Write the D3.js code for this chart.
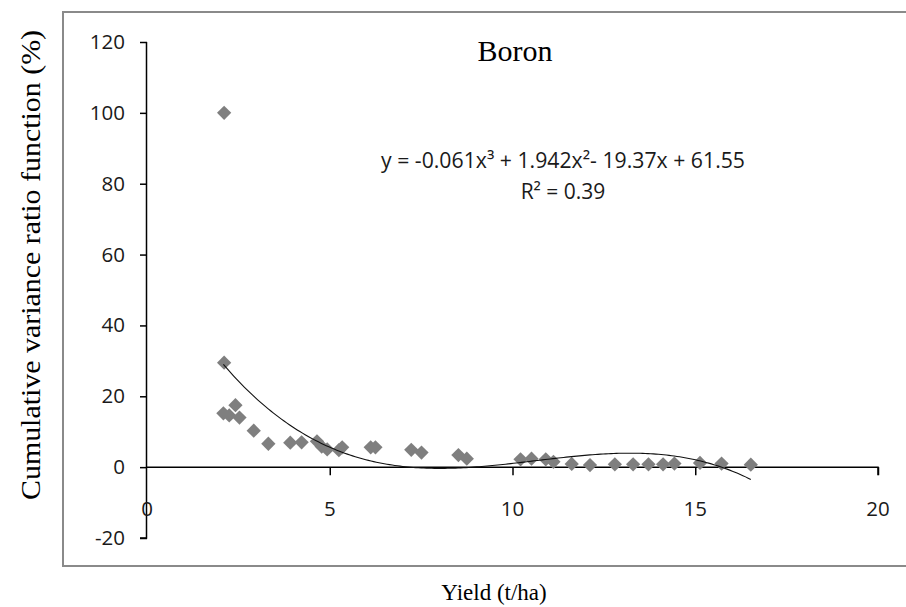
<!DOCTYPE html>
<html>
<head>
<meta charset="utf-8">
<script src="https://cdn.jsdelivr.net/npm/d3@7/dist/d3.min.js"></script>
<style>
  html, body { margin: 0; padding: 0; background: #fff; }
  svg { display: block; }
</style>
</head>
<body>
<svg id="chart" width="906" height="607"></svg>
<script>
// Yield (t/ha) of each sample
const yieldValues = [2.11, 2.11, 2.09, 2.25, 2.42, 2.53, 2.92, 3.32, 3.92, 4.23, 4.65, 4.78,
  4.93, 5.25, 5.34, 6.12, 6.25, 7.23, 7.51, 8.52, 8.75, 10.22, 10.52, 10.91, 11.12, 11.62,
  12.12, 12.8, 13.3, 13.72, 14.12, 14.43, 15.13, 15.72, 16.52];
// Cumulative variance ratio function (%)
const cvrValues = [100, 29.5, 15.2, 14.6, 17.5, 14.0, 10.3, 6.6, 6.9, 7.0, 7.3, 5.8,
  5.0, 4.8, 5.6, 5.6, 5.6, 4.9, 4.1, 3.4, 2.4, 2.2, 2.4, 2.2, 1.5, 0.9,
  0.6, 0.8, 0.8, 0.8, 0.8, 1.0, 1.2, 1.0, 0.7];
// Polynomial trendline coefficients, highest order first
const trendCoefficients = [-0.061, 1.942, -19.37, 61.55];
const rSquared = 0.39;
const xTicks = [0, 5, 10, 15, 20];
const yTicks = [-20, 0, 20, 40, 60, 80, 100, 120];

const svg = d3.select("#chart");

const x = d3.scaleLinear().domain([0, 20]).range([147, 878]);
const y = d3.scaleLinear().domain([-20, 120]).range([538, 42]);

const labelFont = "'Open Sans', sans-serif";
const serifFont = "'Liberation Serif', 'Times New Roman', serif";

// outer chart frame
svg.append("rect")
  .attr("x", 63).attr("y", 12)
  .attr("width", 860).attr("height", 554)
  .attr("fill", "none").attr("stroke", "#8a8a8a").attr("stroke-width", 2);

// title
svg.append("text")
  .attr("x", 515).attr("y", 61)
  .attr("text-anchor", "middle")
  .attr("font-family", serifFont)
  .attr("font-size", 30).attr("fill", "#000")
  .text("Boron");

// y axis
const yAxis = d3.axisLeft(y).tickValues(yTicks).tickSize(7).tickFormat(d => String(d));
const gy = svg.append("g").attr("transform", `translate(${x(0)},0)`).call(yAxis);
gy.select(".domain").attr("stroke", "#000").attr("stroke-width", 1.5).attr("d", `M-0.5,${y(120)}V${y(-20)}H-7`);
gy.selectAll(".tick line").attr("stroke", "#000").attr("stroke-width", 1.5);
gy.selectAll(".tick text")
  .attr("x", -22)
  .attr("font-family", labelFont)
  .attr("font-size", 20.5).attr("fill", "#1a1a1a");

// x axis crossing at y = 0, labels placed lower
const xAxis = d3.axisBottom(x).tickValues(xTicks).tickSize(8).tickFormat("");
const gx = svg.append("g").attr("transform", `translate(0,${y(0)})`).call(xAxis);
gx.select(".domain").attr("stroke", "#000").attr("stroke-width", 1.5).attr("d", `M${x(0)},0H${x(20)}V8`);
gx.selectAll(".tick line").attr("stroke", "#000").attr("stroke-width", 1.5);
gx.selectAll(".tick").filter(d => d === 0).select("line").remove();

svg.append("g").selectAll("text")
  .data(xTicks)
  .join("text")
  .attr("x", d => x(d)).attr("y", 516)
  .attr("text-anchor", "middle")
  .attr("font-family", labelFont)
  .attr("font-size", 20.5).attr("fill", "#1a1a1a")
  .text(d => String(d));

// axis titles
svg.append("text")
  .attr("transform", "translate(40,265) rotate(-90)")
  .attr("text-anchor", "middle")
  .attr("font-family", serifFont)
  .attr("font-size", 27).attr("fill", "#000")
  .attr("textLength", 470).attr("lengthAdjust", "spacingAndGlyphs")
  .text("Cumulative  variance ratio function (%)");

svg.append("text")
  .attr("x", 494).attr("y", 600)
  .attr("text-anchor", "middle")
  .attr("font-family", serifFont)
  .attr("font-size", 23).attr("fill", "#000")
  .text("Yield (t/ha)");

// data points as diamonds
const diamond = d3.symbol().type(d3.symbolDiamond2).size(130);
svg.append("g").selectAll("path")
  .data(yieldValues.map((v, i) => [v, cvrValues[i]]))
  .join("path")
  .attr("transform", d => `translate(${x(d[0])},${y(d[1])})`)
  .attr("d", diamond)
  .attr("fill", "#7f7f7f");

// cubic trendline over the data range
const poly = t => trendCoefficients.reduce((acc, c) => acc * t + c, 0);
const [xmin, xmax] = d3.extent(yieldValues);
const curvePts = d3.range(0, 201).map(i => {
  const t = xmin + (xmax - xmin) * i / 200;
  return [t, poly(t)];
});
svg.append("path")
  .datum(curvePts)
  .attr("d", d3.line().x(d => x(d[0])).y(d => y(d[1])))
  .attr("fill", "none").attr("stroke", "#111").attr("stroke-width", 1.1);

// trendline equation, built from the coefficients
const [a3, a2, a1, a0] = trendCoefficients;
const signed = v => (v < 0 ? "- " : "+ ") + Math.abs(v);
const equation = `y = ${a3}x³ ${signed(a2)}x² ${signed(a1)}x ${signed(a0)}`.replace("x² - ", "x²- ");
svg.append("text")
  .attr("x", 563).attr("y", 168)
  .attr("text-anchor", "middle")
  .attr("font-family", labelFont)
  .attr("font-size", 21).attr("fill", "#1a1a1a")
  .attr("textLength", 364).attr("lengthAdjust", "spacingAndGlyphs")
  .text(equation);
svg.append("text")
  .attr("x", 563).attr("y", 199)
  .attr("text-anchor", "middle")
  .attr("font-family", labelFont)
  .attr("font-size", 21).attr("fill", "#1a1a1a")
  .text(`R² = ${rSquared}`);
</script>
</body>
</html>
